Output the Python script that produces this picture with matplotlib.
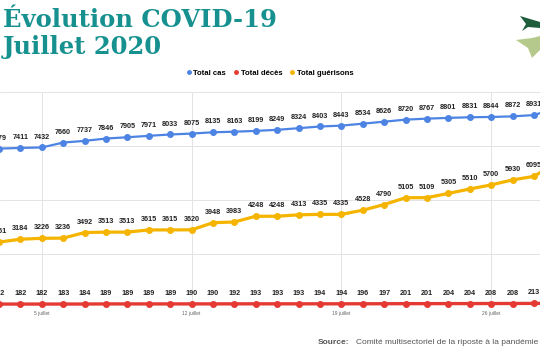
import matplotlib
matplotlib.use("Agg")
import matplotlib.pyplot as plt
from matplotlib.lines import Line2D
from matplotlib.patches import Polygon

# jours de juillet 2020
jours = list(range(3, 30))
total_cas = [7379, 7411, 7432, 7660, 7737, 7846, 7905, 7971, 8033, 8075,
             8135, 8163, 8199, 8249, 8324, 8403, 8443, 8534, 8626, 8720,
             8767, 8801, 8831, 8844, 8872, 8931, 9250]
total_deces = [182, 182, 182, 183, 184, 189, 189, 189, 189, 190,
               190, 192, 193, 193, 193, 194, 194, 196, 197, 201,
               201, 204, 204, 208, 208, 213, 215]
total_guerisons = [3051, 3184, 3226, 3236, 3492, 3513, 3513, 3615, 3615, 3620,
                   3948, 3983, 4248, 4248, 4313, 4335, 4335, 4528, 4790, 5105,
                   5109, 5305, 5510, 5700, 5930, 6095, 6700]
tick_jours = [5, 12, 19, 26]
tick_labels = ["5 juillet", "12 juillet", "19 juillet", "26 juillet"]

bleu = "#4d84e4"
rouge = "#e53a33"
jaune = "#f4b400"
teal = "#16918f"

plt.rcParams['font.family'] = ['Liberation Sans', 'DejaVu Sans']

fig = plt.figure(figsize=(5.4, 3.6), dpi=100)
ax = fig.add_axes([0, 52/360, 1, 216/360])

series = [(total_cas, bleu, 1.6), (total_guerisons, jaune, 2.3), (total_deces, rouge, 2.4)]
for vals, col, lw in series:
    ax.plot(jours, vals, color=col, lw=lw, marker="o", ms=4, zorder=3)
    for j, v in zip(jours[:-1], vals[:-1]):
        ax.annotate(str(v), (j, v), xytext=(0, 5), textcoords="offset points",
                    ha="center", va="bottom", fontsize=5.2, fontweight="bold",
                    color="#222222", zorder=4, annotation_clip=False)

ax.set_xlim(3.047, 28.28)
ax.set_ylim(0, 10000)
ax.set_yticks([0, 2500, 5000, 7500, 10000])
ax.set_xticks(tick_jours)
ax.set_xticklabels(tick_labels, fontsize=3.5, color="#666666")
ax.tick_params(axis="both", length=0, pad=2)
ax.tick_params(axis="y", labelleft=False)
ax.grid(True, color="#e3e3e3", lw=0.7)
for s in ax.spines.values():
    s.set_visible(False)
ax.axhline(0, color="#aaaaaa", lw=0.8, zorder=1)

# titre
fig.text(0.005, 1 - 27/360, "Évolution COVID-19", fontsize=17.5, fontweight="heavy",
         family="DejaVu Serif", color=teal, va="baseline")
fig.text(0.005, 1 - 54/360, "Juillet 2020", fontsize=17.5, fontweight="heavy",
         family="DejaVu Serif", color=teal, va="baseline")

# petit logo (hirondelles) en haut a droite
oiseau1 = [(520, 16), (540, 22), (540, 28), (528, 27), (522, 31), (526, 24)]
oiseau2 = [(516, 40), (532, 38), (540, 36), (540, 50), (532, 58), (528, 48)]
for pts, c in [(oiseau1, "#1e5e3c"), (oiseau2, "#b5c98c")]:
    fig.patches.append(Polygon([(x/540, 1 - y/360) for x, y in pts], closed=True,
                               transform=fig.transFigure, color=c, lw=0))

# legende
handles = [Line2D([], [], ls="", marker="o", ms=2.5, color=c) for c in (bleu, rouge, jaune)]
fig.legend(handles, ["Total cas", "Total décès", "Total guérisons"], loc="center",
           bbox_to_anchor=(0.5, 1 - 73/360), ncol=3, frameon=False,
           prop={"size": 5.6, "weight": "bold"}, handlelength=0.6,
           handletextpad=0.3, columnspacing=1.0)

# source
fig.text(318/540, 1 - 342/360, "Source:", fontsize=6, fontweight="bold",
         color="#555555", va="center")
fig.text(356/540, 1 - 342/360, "Comité multisectoriel de la riposte à la pandémie",
         fontsize=6, color="#555555", va="center")

fig.savefig("out.png", dpi=100)
